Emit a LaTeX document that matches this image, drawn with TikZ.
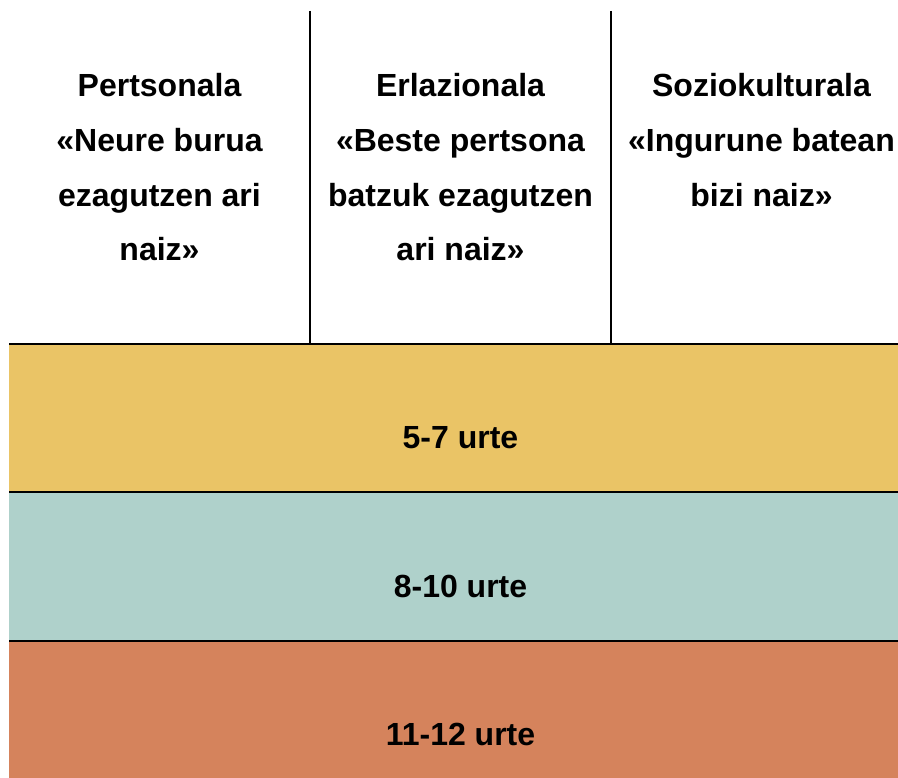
\documentclass[tikz,border=0pt]{standalone}
\usepackage{fontspec}
\setmainfont{Liberation Sans}
\usetikzlibrary{positioning}
\definecolor{bandyellow}{HTML}{EAC466}
\definecolor{bandteal}{HTML}{AFD1CB}
\definecolor{bandorange}{HTML}{D5835C}
\begin{document}
\begin{tikzpicture}[x=1pt,y=-1pt,
    head/.style={anchor=base,align=center,inner sep=0pt,
      font=\bfseries\fontsize{32}{54.7}\selectfont},
    age/.style={anchor=base,inner sep=0pt,font=\bfseries\fontsize{32}{37}\selectfont},
    rule/.style={line width=2pt}]
  \useasboundingbox (0,0) rectangle (898,778);

  % age bands
  \fill[bandyellow] (9,344) rectangle (898,491.5);
  \fill[bandteal] (9,491.5) rectangle (898,640.5);
  \fill[bandorange] (9,640.5) rectangle (898,778);
  \coordinate (l1) at (9,344);   \coordinate (r1) at (898,344);
  \coordinate (l2) at (9,491.5); \coordinate (r2) at (898,491.5);
  \coordinate (l3) at (9,640.5); \coordinate (r3) at (898,640.5);
  \foreach \i in {1,2,3}
    \draw[rule] (l\i) -- (r\i);

  % column rules
  \coordinate (c1t) at (310,11);  \coordinate (c1b) at (310,344);
  \coordinate (c2t) at (611,11);  \coordinate (c2b) at (611,344);
  \draw[rule] (c1t) -- (c1b);
  \draw[rule] (c2t) -- (c2b);

  % headings (anchored at the base of the last line)
  \node[head] (pers) at (159.5,261) {Pertsonala\\«Neure burua\\ezagutzen ari\\naiz»};
  \node[head] (erla) at (460.5,261) {Erlazionala\\«Beste pertsona\\batzuk ezagutzen\\ari naiz»};
  \node[head] (sozio) at (761.5,206.4) {Soziokulturala\\«Ingurune batean\\bizi naiz»};

  \node[age] (a57) at (460.5,448) {5-7 urte};
  \node[age] (a810) at (460.5,597) {8-10 urte};
  \node[age] (a1112) at (460.5,745) {11-12 urte};
\end{tikzpicture}
\end{document}
